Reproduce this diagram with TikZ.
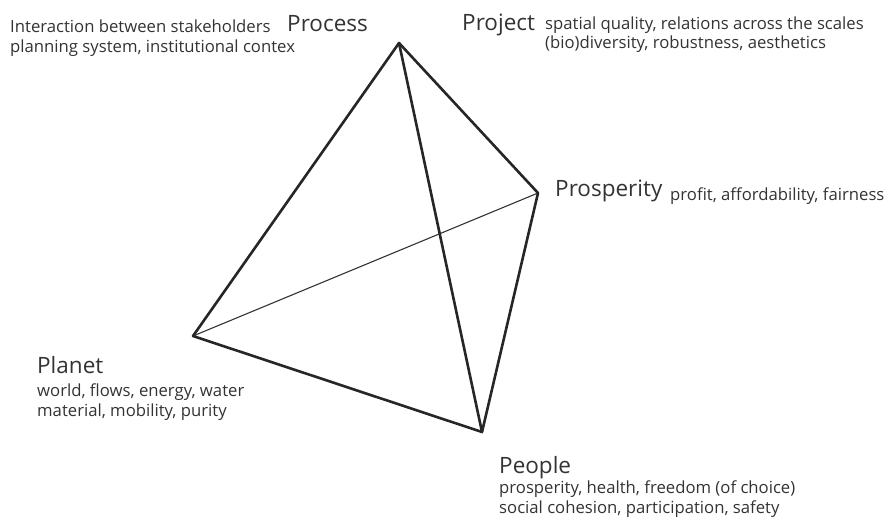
\documentclass[tikz,border=0pt]{standalone}
\usepackage{fontspec}
\setmainfont{Open Sans}
\begin{document}
\begin{tikzpicture}[x=1pt, y=-1pt,
    edge/.style={line width=2.6pt, draw=black!85, line join=round, line cap=round},
    hidden/.style={line width=1.1pt, draw=black!80},
    title/.style={font=\fontsize{22.5}{26}\selectfont, text=black!80,
                  inner sep=0pt, anchor=base west},
    info/.style={font=\fontsize{16.7}{20}\selectfont, text=black!80,
                 inner sep=0pt, anchor=base west}
  ]
    \useasboundingbox (0,0) rectangle (890,520);

    % Vertices
    \coordinate (process) at (399,43);
    \coordinate (prosperity) at (538,193);
    \coordinate (planet) at (193,336);
    \coordinate (people) at (482,432);

    % Edges
    \draw[hidden] (planet) -- (prosperity);
    \draw[edge] (process) -- (planet) -- (people) -- (prosperity) -- cycle;
    \draw[edge] (process) -- (people);

    % Process
    \node[title] (processlbl) at (287,31) {Process};
    \node[info] (processa) at (10,32) {Interaction between stakeholders};
    \node[info] (processb) at (10,52) {planning system, institutional contex};

    % Project
    \node[title] (projectlbl) at (462,30) {Project};
    \node[info] (projecta) at (545,29) {spatial quality, relations across the scales};
    \node[info] (projectb) at (545,48) {(bio)diversity, robustness, aesthetics};

    % Prosperity
    \node[title] (prosperitylbl) at (555,196) {Prosperity};
    \node[info] (prosperitya) at (670,200) {profit, affordability, fairness};

    % Planet
    \node[title] (planetlbl) at (37,373) {Planet};
    \node[info] (planeta) at (37,396) {world, flows, energy, water};
    \node[info] (planetb) at (37,416) {material, mobility, purity};

    % People
    \node[title] (peoplelbl) at (499,473) {People};
    \node[info] (peoplea) at (499,493) {prosperity, health, freedom (of choice)};
    \node[info] (peopleb) at (499,513) {social cohesion, participation, safety};
\end{tikzpicture}
\end{document}
